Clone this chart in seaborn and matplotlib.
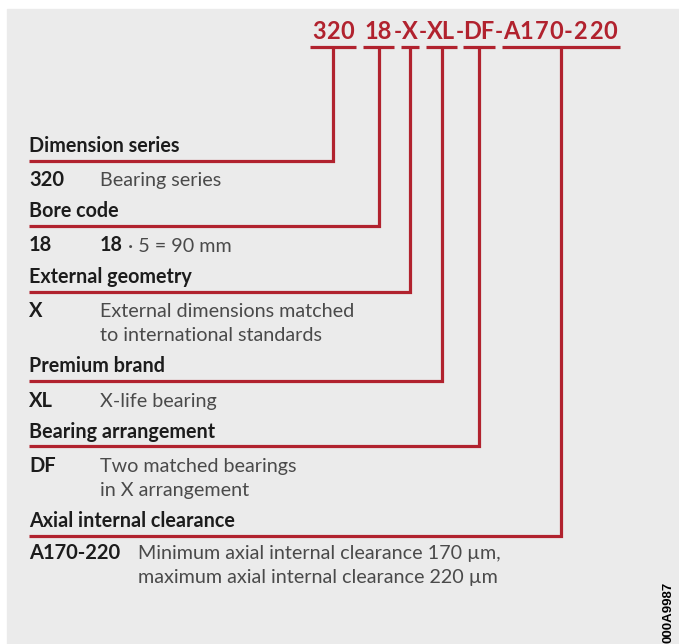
import matplotlib
matplotlib.use("Agg")
import matplotlib.pyplot as plt
import matplotlib.patches as mpatches
import pandas as pd
import seaborn as sns

# designation parts and their meaning
codes = ['320', '18', 'X', 'XL', 'DF', 'A170-220']
separators = [' ', '-', '-', '-', '-']
headings = ['Dimension series', 'Bore code', 'External geometry',
            'Premium brand', 'Bearing arrangement', 'Axial internal clearance']
descriptions = [
    ['Bearing series'],
    ['18', ' \u00b7 5 = 90 mm'],
    ['External dimensions matched', 'to international standards'],
    ['X-life bearing'],
    ['Two matched bearings', 'in X arrangement'],
    ['Minimum axial internal clearance 170 \u00b5m,',
     'maximum axial internal clearance 220 \u00b5m'],
]
drawing_no = '000A9987'

# layout (pixels)
seg_x0 = [310, 363, 401, 426, 463, 502]
seg_x1 = [356, 394, 419, 457, 495, 620]
top_line_y = 47
top_text_y = 39
heading_y = [152, 217, 283, 372, 438, 527]
line_y = [161, 226, 292, 381, 446, 536]
desc_y = [186, 251, 317, 407, 472, 559]
desc_x = [100, 100, 100, 100, 100, 138]
left_x = 29
line_gap = 24

red = '#b1222e'
dark = '#1c1c1c'
grey = '#4a4a4a'

sns.set_theme(style='white')
plt.rcParams['font.family'] = ['Lato', 'DejaVu Sans']

fig = plt.figure(figsize=(6.79, 6.44), dpi=100, facecolor='white')
ax = fig.add_axes([0, 0, 1, 1])

ax.add_patch(mpatches.Rectangle((7, 9), 679, 644, color='#ebebeb', zorder=0))

# leader lines
rows = []
for i in range(len(codes)):
    cx = (seg_x0[i] + seg_x1[i]) / 2
    rows.append({'seg': f'u{i}', 'x': seg_x0[i], 'y': top_line_y})
    rows.append({'seg': f'u{i}', 'x': seg_x1[i], 'y': top_line_y})
    rows.append({'seg': f'l{i}', 'x': cx, 'y': top_line_y})
    rows.append({'seg': f'l{i}', 'x': cx, 'y': line_y[i]})
    rows.append({'seg': f'l{i}', 'x': left_x, 'y': line_y[i]})
lines = pd.DataFrame(rows)
sns.lineplot(data=lines, x='x', y='y', units='seg', estimator=None, sort=False,
             color=red, linewidth=2.3, ax=ax, solid_capstyle='butt',
             solid_joinstyle='miter', legend=False)
ax.set_xlim(0, 679)
ax.set_ylim(644, 0)
ax.axis('off')

# designation on top; longer parts letter-spaced over their underline
for i, c in enumerate(codes):
    if len(c) < 3:
        ax.text((seg_x0[i] + seg_x1[i]) / 2, top_text_y, c, ha='center',
                va='baseline', fontsize=17, fontweight='bold', color=red)
        continue
    w = [0.6 if ch == '-' else 1.0 for ch in c]
    a, b = seg_x0[i] + 2, seg_x1[i] - 2
    step = (b - a) / sum(w)
    pos = a
    for ch, wi in zip(c, w):
        ax.text(pos + wi * step / 2, top_text_y, ch, ha='center',
                va='baseline', fontsize=17, fontweight='bold', color=red)
        pos += wi * step
for i, s in enumerate(separators):
    mx = (seg_x1[i] + seg_x0[i + 1]) / 2
    ax.text(mx, top_text_y, s, ha='center', va='baseline', fontsize=15.5,
            fontweight='bold', color=red)

# headings and descriptions
for i, h in enumerate(headings):
    ax.text(left_x, heading_y[i], h, ha='left', va='baseline', fontsize=14.2,
            fontweight='bold', color=dark)
    ax.text(left_x, desc_y[i], codes[i], ha='left', va='baseline', fontsize=14.5,
            fontweight='bold', color=dark)
    d = descriptions[i]
    if codes[i] == '18':
        t = ax.text(desc_x[i], desc_y[i], d[0], ha='left', va='baseline',
                    fontsize=14.2, fontweight='bold', color=dark)
        ax.annotate(d[1], xy=(1, 0), xycoords=t, ha='left', va='bottom',
                    fontsize=14.2, color=grey)
    else:
        for k, line in enumerate(d):
            ax.text(desc_x[i], desc_y[i] + k * line_gap, line, ha='left',
                    va='baseline', fontsize=14.2, color=grey)

ax.text(668, 612, drawing_no, rotation=90, ha='center', va='center',
        fontsize=9.5, fontweight='bold', color='black',
        family=['Liberation Sans', 'DejaVu Sans'])

fig.savefig('out.png', dpi=100, facecolor='white')
